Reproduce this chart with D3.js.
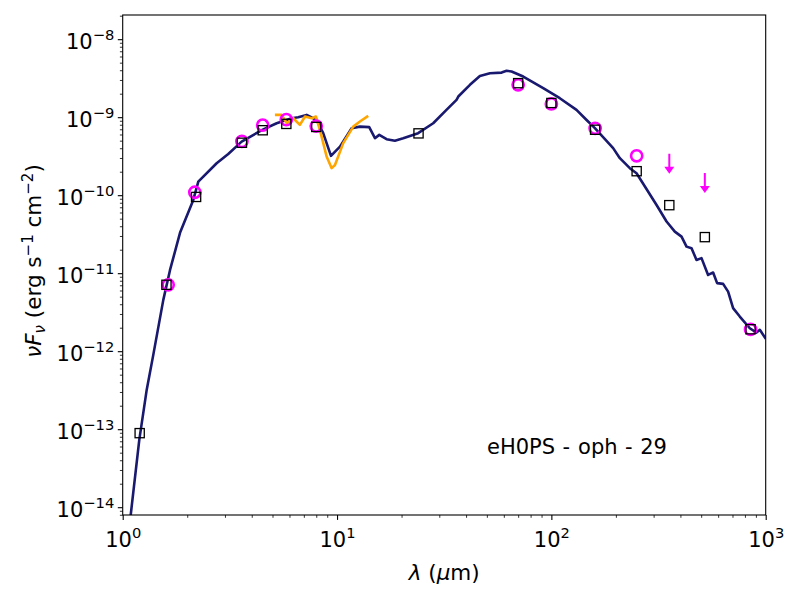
<!DOCTYPE html>
<html>
<head>
<meta charset="utf-8">
<script src="https://cdn.jsdelivr.net/npm/d3@7"></script>
<style>
body { margin: 0; background: #fff; }
text { font-family: "DejaVu Sans", sans-serif; }
</style>
</head>
<body>
<svg id="chart"></svg>
<script>
// model SED (um, erg s-1 cm-2)
const modelWave = [1.07, 1.195, 1.294, 1.389, 1.547, 1.663, 1.851, 2.135, 2.253, 2.744,
    3.108, 3.589, 4.478, 5.228, 6.14, 6.59, 7.215, 8.03, 8.62, 9.37,
    10.32, 11.7, 12.79, 14.13, 15.03, 15.74, 17.03, 18.62, 20.36, 23.9,
    28.1, 32.4, 36.1, 36.8, 41.7, 46.4, 51.7, 58.6, 61.8, 65.2,
    73.9, 91.6, 109.5, 131, 146, 159.6, 194.2, 208.7, 232.3, 249.7,
    309.6, 344.7, 376.7, 404.9, 427.2, 450.8, 475.6, 501.8, 538.6, 568.5,
    593.4, 632.9, 667.8, 704.6, 757.1, 843, 906, 939, 1001];
const modelFlux = [5.1e-15, 7.3e-14, 3.19e-13, 8.97e-13, 4.55e-12, 1.10e-11, 3.29e-11, 8.7e-11, 1.49e-10, 2.57e-10,
    3.38e-10, 4.86e-10, 6.87e-10, 8.37e-10, 9.7e-10, 1.0e-9, 1.07e-9, 9.2e-10, 6.24e-10, 3.19e-10,
    4.2e-10, 7.23e-10, 7.57e-10, 7.45e-10, 5.38e-10, 5.93e-10, 5.22e-10, 5.0e-10, 5.38e-10, 6.24e-10,
    8.37e-10, 1.24e-9, 1.67e-9, 1.84e-9, 2.6e-9, 3.38e-9, 3.66e-9, 3.73e-9, 3.93e-9, 3.85e-9,
    3.32e-9, 2.36e-9, 1.75e-9, 1.24e-9, 9.2e-10, 7.23e-10, 4.01e-10, 2.98e-10, 2.22e-10, 1.91e-10,
    7.5e-11, 4.6e-11, 3.41e-11, 2.94e-11, 2.19e-11, 2.09e-11, 1.48e-11, 1.56e-11, 9.5e-12, 1.02e-11,
    7.45e-12, 7.3e-12, 5.8e-12, 3.56e-12, 2.78e-12, 1.97e-12, 1.73e-12, 1.88e-12, 1.44e-12];

// IRS spectrum
const irsWave = [5.13, 5.52, 5.82, 6.25, 6.71, 7.09, 7.61, 7.97, 8.32, 8.94, 9.44, 9.78, 10.69, 11.9, 12.79, 13.98];
const irsFlux = [1.07e-9, 1.07e-9, 8.37e-10, 9.7e-10, 7.96e-10, 1.02e-9, 9.7e-10, 1.02e-9, 6.87e-10, 3.13e-10,
    2.22e-10, 2.44e-10, 4.65e-10, 7.57e-10, 8.8e-10, 1.04e-9];

// model photometry (squares)
const sqWave = [1.2, 1.6, 2.2, 3.6, 4.5, 5.8, 8.0, 24, 70, 100, 160, 250, 355, 520, 850];
const sqFlux = [8.9e-14, 7.1e-12, 9.5e-11, 4.7e-10, 6.8e-10, 8.2e-10, 7.5e-10, 6.2e-10, 2.73e-9, 1.52e-9,
    6.9e-10, 2.03e-10, 7.45e-11, 2.9e-11, 1.91e-12];

// observed photometry (circles)
const obsWave = [1.63, 2.17, 3.6, 4.5, 5.8, 8.0, 70, 100, 160, 250, 850];
const obsFlux = [7.1e-12, 1.09e-10, 4.9e-10, 7.9e-10, 9.3e-10, 7.7e-10, 2.6e-9, 1.48e-9, 7.2e-10, 3.2e-10, 1.9e-12];

// upper limits
const limWave = [355, 520];
const limFlux = [3.4e-10, 1.93e-10];

const xTicks = [1, 10, 100, 1000];
const yTicks = [1e-14, 1e-13, 1e-12, 1e-11, 1e-10, 1e-9, 1e-8];

const w = 800, h = 600;
const pLeft = 122.7, pRight = 765.7, pTop = 15, pBottom = 515;

const svg = d3.select("#chart").attr("width", w).attr("height", h);

const x = d3.scaleLog().domain([1, 1000]).range([pLeft, pRight]);
const y = d3.scaleLog().domain([Math.pow(10, -14.10), Math.pow(10, -7.69)]).range([pBottom, pTop]);

svg.append("clipPath").attr("id", "plotclip")
    .append("rect")
    .attr("x", pLeft).attr("y", pTop)
    .attr("width", pRight - pLeft).attr("height", pBottom - pTop);

function minorTicks(lo, hi) {
    let out = [];
    for (let e = lo; e < hi; e++) {
        for (let m = 2; m < 10; m++) out.push(m * Math.pow(10, e));
    }
    return out;
}
const xMinor = minorTicks(0, 3);
const yMinor = minorTicks(-15, -7).filter(d => d > y.domain()[0] && d < y.domain()[1]);

// axes
const gx = svg.append("g").attr("transform", `translate(0,${pBottom})`);
gx.call(d3.axisBottom(x).tickValues(xMinor).tickSize(2.8).tickFormat(""))
    .call(g => g.select(".domain").remove())
    .call(g => g.selectAll("line").attr("stroke-width", 0.8));
const gxM = svg.append("g").attr("transform", `translate(0,${pBottom})`);
gxM.call(d3.axisBottom(x).tickValues(xTicks).tickSize(4.9).tickFormat(""))
    .call(g => g.select(".domain").remove())
    .call(g => g.selectAll("line").attr("stroke-width", 1.1));
gxM.selectAll(".tick").append("text")
    .attr("fill", "#000")
    .attr("y", 31.7)
    .attr("text-anchor", "middle")
    .style("font-size", "21px")
    .each(function (d) {
        const t = d3.select(this);
        t.append("tspan").text("10");
        t.append("tspan").attr("dy", -8.5).style("font-size", "14.7px")
            .text(String(Math.round(Math.log10(d))));
    });

const gy = svg.append("g").attr("transform", `translate(${pLeft},0)`);
gy.call(d3.axisLeft(y).tickValues(yMinor).tickSize(2.8).tickFormat(""))
    .call(g => g.select(".domain").remove())
    .call(g => g.selectAll("line").attr("stroke-width", 0.8));
const gyM = svg.append("g").attr("transform", `translate(${pLeft},0)`);
gyM.call(d3.axisLeft(y).tickValues(yTicks).tickSize(4.9).tickFormat(""))
    .call(g => g.select(".domain").remove())
    .call(g => g.selectAll("line").attr("stroke-width", 1.1));
gyM.selectAll(".tick").append("text")
    .attr("fill", "#000")
    .attr("x", -8.4)
    .attr("y", 9)
    .attr("text-anchor", "end")
    .style("font-size", "21px")
    .each(function (d) {
        const t = d3.select(this);
        t.append("tspan").text("10");
        t.append("tspan").attr("dy", -8.5).style("font-size", "14.7px")
            .text("\u2212" + Math.abs(Math.round(Math.log10(d))));
    });

// curves
const line = d3.line().x(d => x(d[0])).y(d => y(d[1]));
const plot = svg.append("g").attr("clip-path", "url(#plotclip)");

plot.append("path")
    .datum(d3.zip(modelWave, modelFlux))
    .attr("d", line)
    .attr("fill", "none")
    .attr("stroke", "#191970")
    .attr("stroke-width", 2.6)
    .attr("stroke-linejoin", "round");

plot.append("path")
    .datum(d3.zip(irsWave, irsFlux))
    .attr("d", line)
    .attr("fill", "none")
    .attr("stroke", "#ffa500")
    .attr("stroke-width", 2.6)
    .attr("stroke-linejoin", "round");

// observed points
plot.selectAll(".obs")
    .data(d3.zip(obsWave, obsFlux))
    .enter()
    .append("circle")
    .attr("class", "obs")
    .attr("cx", d => x(d[0]))
    .attr("cy", d => y(d[1]))
    .attr("r", 5.6)
    .attr("fill", "none")
    .attr("stroke", "#ff00ff")
    .attr("stroke-width", 2.6);

// upper limit arrows
const lims = plot.selectAll(".lim")
    .data(d3.zip(limWave, limFlux))
    .enter()
    .append("g")
    .attr("class", "lim")
    .attr("transform", d => `translate(${x(d[0])},${y(d[1])})`);
lims.append("line")
    .attr("x1", 0).attr("x2", 0).attr("y1", 0).attr("y2", 14)
    .attr("stroke", "#ff00ff").attr("stroke-width", 2);
lims.append("path")
    .attr("d", "M-5,13 L5,13 L0,20 Z")
    .attr("fill", "#ff00ff");

// model photometry
plot.selectAll(".sq")
    .data(d3.zip(sqWave, sqFlux))
    .enter()
    .append("rect")
    .attr("class", "sq")
    .attr("x", d => x(d[0]) - 4.6)
    .attr("y", d => y(d[1]) - 4.6)
    .attr("width", 9.2)
    .attr("height", 9.2)
    .attr("fill", "none")
    .attr("stroke", "#000")
    .attr("stroke-width", 1.3);

// frame
svg.append("rect")
    .attr("x", pLeft).attr("y", pTop)
    .attr("width", pRight - pLeft).attr("height", pBottom - pTop)
    .attr("fill", "none")
    .attr("stroke", "#000")
    .attr("stroke-width", 1.1);

// labels
svg.append("text")
    .attr("x", (pLeft + pRight) / 2)
    .attr("y", 580)
    .attr("text-anchor", "middle")
    .style("font-size", "21.5px")
    .call(t => {
        t.append("tspan").style("font-style", "italic").text("\u03bb");
        t.append("tspan").text(" (");
        t.append("tspan").style("font-style", "italic").text("\u03bc");
        t.append("tspan").text("m)");
    });

svg.append("text")
    .attr("transform", `translate(41,261) rotate(-90)`)
    .attr("text-anchor", "middle")
    .style("font-size", "21.5px")
    .call(t => {
        t.append("tspan").style("font-style", "italic").text("\u03bdF");
        t.append("tspan").attr("dy", 4).style("font-size", "15px").style("font-style", "italic").text("\u03bd");
        t.append("tspan").attr("dy", -4).text(" (erg s");
        t.append("tspan").attr("dy", -8.5).style("font-size", "15px").text("\u22121");
        t.append("tspan").attr("dy", 8.5).text(" cm");
        t.append("tspan").attr("dy", -8.5).style("font-size", "15px").text("\u22122");
        t.append("tspan").attr("dy", 8.5).text(")");
    });

svg.append("text")
    .attr("x", 487)
    .attr("y", 454)
    .style("font-size", "21px")
    .call(t => {
        t.append("tspan").text("eH0PS");
        t.append("tspan").attr("dx", 7.5).text("-");
        t.append("tspan").attr("dx", 7.5).text("oph");
        t.append("tspan").attr("dx", 7.5).text("-");
        t.append("tspan").attr("dx", 7.5).text("29");
    });
</script>
</body>
</html>
